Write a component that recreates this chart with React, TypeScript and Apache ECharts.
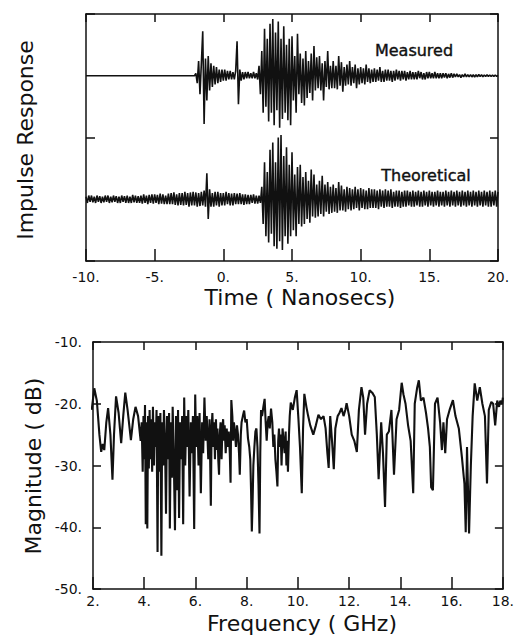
import React, { useEffect, useRef } from "react";
import * as echarts from "echarts";

// ---- Top panel: impulse responses, sampled every 0.1 ns from -10 ns ----
const timeStart = -10;
const timeStep = 0.1;
const timeTicks = [-10, -5, 0, 5, 10, 15, 20];

// deviation about each trace's own baseline
const measured = [
  0, 0, 0, 0, 0, 0, 0, 0, 0, 0, 0, 0, 0, 0, 0, 0, 0, 0, 0, 0,
  0, 0, 0, 0, 0, 0, 0, 0, 0, 0, 0, 0, 0, 0, 0, 0, 0, 0, 0, 0,
  0, 0, 0, 0, 0, 0, 0, 0, 0, 0, 0, 0, 0, 0, 0, 0, 0, 0, 0, 0,
  0, 0, 0, 0, 0, 0, 0, 0, 0, 0, 0, 0, 0, 0, 0, 0, 0, 0, 0, 0,
  0.02, -0.06, 0.12, -0.15, 0.1, 0.36, -0.39, 0.14, -0.2, 0.16,
  -0.12, 0.1, -0.09, 0.08, -0.07, 0.07, -0.06, 0.05, -0.05, 0.05,
  -0.04, 0.05, -0.04, 0.04, -0.03, 0.04, -0.03, 0.03, -0.03, 0.04,
  0.28, -0.23, 0.05, -0.04, 0.03, -0.03, 0.03, -0.02, 0.03, -0.02,
  0.02, -0.02, 0.03, -0.02, 0.02, -0.03, 0.08, -0.15, 0.2, -0.3,
  0.38, -0.25, 0.3, -0.37, 0.42, -0.3, 0.46, -0.4, 0.35, -0.28,
  0.44, -0.42, 0.3, -0.35, 0.4, -0.3, 0.25, -0.36, 0.3, -0.4,
  0.32, -0.2, 0.16, -0.3, 0.34, -0.15, 0.18, -0.22, 0.14, -0.24,
  0.2, -0.18, 0.12, -0.14, 0.18, -0.2, 0.24, -0.12, 0.15, -0.1,
  0.16, -0.12, 0.1, -0.2, 0.12, -0.09, 0.2, -0.11, 0.08, -0.1,
  0.12, -0.1, 0.08, -0.11, 0.16, -0.08, 0.11, -0.13, 0.07, -0.08,
  0.09, -0.07, 0.12, -0.08, 0.07, -0.06, 0.09, -0.1, 0.06, -0.07,
  0.07, -0.06, 0.06, -0.07, 0.09, -0.05, 0.06, -0.06, 0.05, -0.05,
  0.06, -0.05, 0.05, -0.04, 0.07, -0.05, 0.04, -0.05, 0.05, -0.04,
  0.05, -0.04, 0.04, -0.05, 0.04, -0.04, 0.05, -0.03, 0.04, -0.04,
  0.04, -0.03, 0.04, -0.04, 0.03, -0.03, 0.04, -0.03, 0.03, -0.03,
  0.03, -0.03, 0.04, -0.02, 0.03, -0.03, 0.02, -0.03, 0.03, -0.02,
  0.03, -0.02, 0.02, -0.02, 0.03, -0.02, 0.02, -0.02, 0.02, -0.02,
  0.02, -0.015, 0.02, -0.02, 0.015, -0.015, 0.02, -0.015, 0.015, -0.01,
  0.015, -0.01, 0.01, -0.015, 0.01, -0.01, 0.015, -0.01, 0.01, -0.01,
  0.01, -0.01, 0.008, -0.01, 0.008, -0.008, 0.01, -0.006, 0.008, -0.008,
  0.006, -0.006, 0.008, -0.005, 0.006, -0.006, 0.005, -0.005, 0.006, -0.005,
  0.004,
];

const theoretical = [
  0.02, -0.03, 0.03, -0.02, 0.03, -0.025, 0.02, -0.03, 0.03, -0.02,
  0.025, -0.03, 0.02, -0.025, 0.03, -0.02, 0.03, -0.03, 0.02, -0.025,
  0.03, -0.02, 0.025, -0.03, 0.02, -0.03, 0.03, -0.02, 0.025, -0.03,
  0.03, -0.03, 0.02, -0.03, 0.035, -0.025, 0.03, -0.03, 0.025, -0.03,
  0.03, -0.035, 0.04, -0.03, 0.03, -0.04, 0.035, -0.03, 0.04, -0.035,
  0.04, -0.03, 0.035, -0.04, 0.045, -0.035, 0.04, -0.04, 0.03, -0.04,
  0.045, -0.04, 0.05, -0.04, 0.055, -0.045, 0.04, -0.05, 0.05, -0.045,
  0.05, -0.05, 0.06, -0.045, 0.05, -0.06, 0.055, -0.05, 0.06, -0.05,
  0.055, -0.06, 0.05, -0.055, 0.06, -0.05, 0.07, -0.06, 0.21, -0.16,
  0.08, -0.06, 0.05, -0.06, 0.06, -0.05, 0.06, -0.06, 0.05, -0.05,
  0.05, -0.05, 0.06, -0.04, 0.05, -0.05, 0.045, -0.05, 0.05, -0.04,
  0.045, -0.04, 0.05, -0.04, 0.04, -0.045, 0.04, -0.04, 0.035, -0.04,
  0.035, -0.03, 0.04, -0.035, 0.03, -0.035, 0.03, -0.03, 0.1, -0.2,
  0.3, -0.3, 0.22, -0.35, 0.4, -0.28, 0.46, -0.38, 0.3, -0.4,
  0.5, -0.34, 0.52, -0.41, 0.35, -0.3, 0.42, -0.36, 0.28, -0.3,
  0.38, -0.25, 0.2, -0.3, 0.26, -0.2, 0.28, -0.22, 0.18, -0.2,
  0.22, -0.16, 0.15, -0.19, 0.24, -0.14, 0.2, -0.15, 0.12, -0.14,
  0.15, -0.12, 0.19, -0.14, 0.12, -0.1, 0.14, -0.12, 0.1, -0.11,
  0.12, -0.1, 0.09, -0.11, 0.14, -0.09, 0.11, -0.09, 0.08, -0.1,
  0.1, -0.08, 0.09, -0.09, 0.08, -0.08, 0.1, -0.07, 0.08, -0.09,
  0.09, -0.07, 0.08, -0.08, 0.07, -0.08, 0.09, -0.07, 0.08, -0.07,
  0.08, -0.07, 0.07, -0.08, 0.08, -0.06, 0.07, -0.07, 0.08, -0.06,
  0.07, -0.06, 0.08, -0.07, 0.06, -0.06, 0.07, -0.06, 0.07, -0.07,
  0.06, -0.06, 0.07, -0.06, 0.07, -0.05, 0.06, -0.06, 0.07, -0.06,
  0.06, -0.05, 0.07, -0.06, 0.06, -0.06, 0.07, -0.05, 0.06, -0.06,
  0.07, -0.05, 0.06, -0.06, 0.06, -0.05, 0.07, -0.06, 0.06, -0.05,
  0.06, -0.06, 0.07, -0.05, 0.06, -0.06, 0.07, -0.05, 0.06, -0.06,
  0.07, -0.05, 0.06, -0.06, 0.07, -0.05, 0.06, -0.06, 0.07, -0.05,
  0.06, -0.06, 0.07, -0.05, 0.06, -0.06, 0.07, -0.05, 0.06, -0.06,
  0.07, -0.05, 0.06, -0.06, 0.07, -0.06, 0.06, -0.05, 0.07, -0.06,
  0.06,
];

const measuredBaseline = 1.5;
const theoreticalBaseline = 0.5;

// ---- Bottom panel: magnitude spectrum [GHz, dB] ----
const freqTicks = [2, 4, 6, 8, 10, 12, 14, 16, 18];
const magTicks = [-50, -40, -30, -20, -10];
const spectrum: [number, number][] = [
  [1.95, -21], [2.05, -17.5], [2.15, -19.5], [2.25, -25], [2.32, -27.8], [2.38, -26.5], [2.44, -27.5],
  [2.52, -23], [2.59, -20.7], [2.68, -25], [2.76, -32.3], [2.82, -25], [2.9, -18.8], [3.0, -21.5],
  [3.1, -26.4], [3.18, -22], [3.26, -18.2], [3.35, -21], [3.48, -25.9], [3.57, -22.5], [3.66, -20.5],
  [3.76, -22], [3.86, -26],
  [3.9, -23], [3.94, -31], [3.97, -22], [4.0, -29], [4.03, -20.2], [4.06, -39.5], [4.09, -23],
  [4.12, -40.2], [4.15, -22], [4.18, -30.5], [4.21, -21], [4.24, -29], [4.27, -22.5], [4.31, -31],
  [4.34, -20.5], [4.38, -30], [4.41, -23], [4.45, -27], [4.48, -21], [4.52, -44], [4.55, -22],
  [4.6, -31], [4.63, -21.5], [4.67, -44.6], [4.7, -23], [4.74, -30], [4.77, -21], [4.81, -26],
  [4.85, -37.8], [4.89, -22], [4.93, -29], [4.97, -21.5], [5.0, -40.2], [5.04, -23], [5.08, -32],
  [5.11, -20.5], [5.15, -28], [5.2, -40.5], [5.24, -22], [5.28, -34], [5.32, -21], [5.36, -38.5],
  [5.4, -23], [5.44, -29], [5.48, -22], [5.52, -39.5], [5.56, -19], [5.6, -30], [5.64, -22],
  [5.68, -27], [5.72, -21], [5.77, -35], [5.82, -23], [5.86, -28], [5.9, -22], [5.95, -40.3],
  [5.99, -18.5], [6.03, -27], [6.07, -22], [6.12, -30], [6.16, -21.5], [6.21, -34.5], [6.26, -23],
  [6.3, -28], [6.35, -19], [6.4, -26], [6.44, -22], [6.5, -29], [6.55, -22.5], [6.6, -36.5],
  [6.63, -24], [6.66, -21.5], [6.7, -27], [6.73, -23], [6.76, -29], [6.8, -22.5], [6.83, -27.5],
  [6.86, -24], [6.89, -29], [6.92, -31.5], [6.95, -25], [6.98, -23], [7.02, -29], [7.05, -24],
  [7.08, -22.5], [7.11, -26], [7.14, -23.5], [7.18, -28], [7.22, -24], [7.26, -27], [7.3, -24.5],
  [7.34, -28], [7.37, -32.8], [7.4, -19.4], [7.44, -22], [7.47, -26], [7.5, -23], [7.54, -24.5],
  [7.58, -27], [7.62, -23.5], [7.66, -25], [7.7, -28], [7.73, -31.5], [7.77, -25], [7.8, -23],
  [7.85, -22], [7.9, -21.1], [7.95, -23], [8.0, -22.5], [8.05, -25.6], [8.1, -27], [8.14, -29],
  [8.17, -34], [8.2, -40.7], [8.23, -36], [8.26, -30], [8.3, -27], [8.34, -24.5], [8.38, -24],
  [8.42, -27], [8.46, -33], [8.5, -41], [8.53, -28], [8.56, -21], [8.6, -22], [8.65, -20.5],
  [8.7, -19.2], [8.74, -23], [8.78, -26], [8.82, -23], [8.86, -22], [8.9, -24], [8.95, -20.8],
  [9.0, -23], [9.04, -27], [9.08, -25], [9.12, -29], [9.16, -31], [9.2, -33.4], [9.23, -26],
  [9.26, -24], [9.3, -27], [9.33, -25], [9.36, -30], [9.4, -24], [9.44, -26], [9.48, -28],
  [9.52, -24.5], [9.55, -30], [9.58, -26], [9.61, -31], [9.65, -25], [9.68, -22], [9.72, -19.8],
  [9.8, -21], [9.88, -19], [9.95, -17.8], [10.02, -22.5], [10.08, -27], [10.15, -34.5], [10.2, -24],
  [10.25, -18.4], [10.33, -20.5], [10.4, -22], [10.48, -23.5], [10.6, -25], [10.7, -23.5], [10.8, -21.8],
  [10.9, -22.5], [11.0, -22], [11.08, -24], [11.15, -28], [11.2, -30.4], [11.26, -22], [11.33, -26],
  [11.4, -30.6], [11.46, -24], [11.55, -22], [11.62, -21.5], [11.7, -20.7], [11.78, -22], [11.85, -21],
  [11.9, -19.9], [12.0, -22], [12.1, -25], [12.2, -26], [12.3, -27.8], [12.38, -21], [12.48, -17.3],
  [12.55, -19], [12.62, -25], [12.7, -20], [12.8, -17.8], [12.9, -18.2], [13.0, -18.9], [13.08, -25],
  [13.15, -32.2], [13.25, -23], [13.32, -28], [13.4, -36.7], [13.47, -25], [13.55, -24.5], [13.65, -21],
  [13.75, -31.5], [13.85, -22.5], [13.95, -21], [14.05, -16.6], [14.12, -18.5], [14.2, -20], [14.3, -23.5],
  [14.4, -26], [14.5, -34.5], [14.56, -20], [14.65, -17.5], [14.72, -16.2], [14.8, -19.5], [14.9, -19],
  [15.0, -21.5], [15.08, -24], [15.15, -27], [15.2, -33.5], [15.27, -34], [15.35, -20], [15.45, -19],
  [15.55, -23], [15.62, -27.5], [15.68, -23], [15.75, -28], [15.82, -22.5], [15.92, -21], [16.05, -19.4],
  [16.15, -22], [16.28, -24], [16.4, -28.6], [16.5, -33], [16.55, -40.8], [16.6, -27], [16.68, -41],
  [16.75, -30], [16.82, -22], [16.9, -16.7], [17.0, -19.5], [17.1, -17.3], [17.2, -20], [17.3, -22],
  [17.38, -32.9], [17.45, -21], [17.55, -19.7], [17.62, -20], [17.7, -23.5], [17.78, -19.5], [17.85, -20.5],
  [17.9, -19.5], [17.97, -20], [18.0, -19],
];

const FONT = "DejaVu Sans";
const INK = "#111";

export default function App() {
  const ref = useRef<HTMLDivElement>(null);

  useEffect(() => {
    if (!ref.current) return;
    const chart = echarts.init(ref.current, undefined, { renderer: "svg" });

    const measuredData = measured.map((v, i) => [timeStart + i * timeStep, measuredBaseline + v]);
    const theoreticalData = theoretical.map((v, i) => [timeStart + i * timeStep, theoreticalBaseline + v]);

    const axisLine = { show: true, onZero: false, lineStyle: { color: INK, width: 1.5 } };
    const label = () => ({
      show: true,
      color: INK,
      fontFamily: FONT,
      fontSize: 14,
      showMinLabel: true,
      showMaxLabel: true,
      formatter: (v: number) => `${v}.`,
    });
    const ticks = (len: number) => ({ show: true, inside: true, length: len, lineStyle: { color: INK, width: 1.5 } });
    const hidden = { show: false };

    const option: any = {
      animation: false,
      backgroundColor: "#fff",
      grid: [
        { left: 86, top: 14, width: 412, height: 247, containLabel: false },
        { left: 93, top: 342, width: 410, height: 247, containLabel: false },
      ],
      xAxis: [
        {
          gridIndex: 0, type: "value", position: "bottom",
          min: timeTicks[0], max: timeTicks[timeTicks.length - 1], interval: 5,
          axisLine, axisTick: ticks(12), axisLabel: { ...label(), margin: 9 }, splitLine: hidden,
        },
        {
          gridIndex: 0, type: "value", position: "top",
          min: timeTicks[0], max: timeTicks[timeTicks.length - 1], interval: 5,
          axisLine, axisTick: ticks(8), axisLabel: hidden, splitLine: hidden,
        },
        {
          gridIndex: 1, type: "value", position: "bottom",
          min: freqTicks[0], max: freqTicks[freqTicks.length - 1], interval: 2,
          axisLine, axisTick: ticks(12), axisLabel: { ...label(), margin: 5 }, splitLine: hidden,
        },
        {
          gridIndex: 1, type: "value", position: "top",
          min: freqTicks[0], max: freqTicks[freqTicks.length - 1], interval: 2,
          axisLine, axisTick: ticks(8), axisLabel: hidden, splitLine: hidden,
        },
      ],
      yAxis: [
        {
          gridIndex: 0, type: "value", position: "left", min: 0, max: 2, interval: 1,
          axisLine, axisTick: ticks(9), axisLabel: hidden, splitLine: hidden,
        },
        {
          gridIndex: 0, type: "value", position: "right", min: 0, max: 2, interval: 1,
          axisLine, axisTick: ticks(8), axisLabel: hidden, splitLine: hidden,
        },
        {
          gridIndex: 1, type: "value", position: "left",
          min: magTicks[0], max: magTicks[magTicks.length - 1], interval: 10,
          axisLine, axisTick: ticks(8), axisLabel: { ...label(), margin: 11 }, splitLine: hidden,
        },
        {
          gridIndex: 1, type: "value", position: "right",
          min: magTicks[0], max: magTicks[magTicks.length - 1], interval: 10,
          axisLine, axisTick: ticks(8), axisLabel: hidden, splitLine: hidden,
        },
      ],
      series: [
        {
          name: "Measured", type: "line", xAxisIndex: 0, yAxisIndex: 0, data: measuredData,
          showSymbol: false, symbol: "none", silent: true,
          lineStyle: { color: INK, width: 1.6 },
        },
        {
          name: "Theoretical", type: "line", xAxisIndex: 0, yAxisIndex: 0, data: theoreticalData,
          showSymbol: false, symbol: "none", silent: true,
          lineStyle: { color: INK, width: 1.6 },
        },
        {
          name: "Magnitude", type: "line", xAxisIndex: 2, yAxisIndex: 2, data: spectrum,
          showSymbol: false, symbol: "none", silent: true, clip: true,
          lineStyle: { color: INK, width: 2.1 },
        },
      ],
      graphic: [
        {
          type: "text", x: 25, y: 140, rotation: Math.PI / 2,
          style: { text: "Impulse Response", fill: INK, font: `22px "${FONT}"`, textAlign: "center", textVerticalAlign: "middle" },
        },
        {
          type: "text", x: 300, y: 297,
          style: { text: "Time ( Nanosecs)", fill: INK, font: `22px "${FONT}"`, textAlign: "center", textVerticalAlign: "middle" },
        },
        {
          type: "text", x: 33, y: 466, rotation: Math.PI / 2,
          style: { text: "Magnitude ( dB)", fill: INK, font: `22px "${FONT}"`, textAlign: "center", textVerticalAlign: "middle" },
        },
        {
          type: "text", x: 302, y: 623,
          style: { text: "Frequency ( GHz)", fill: INK, font: `22px "${FONT}"`, textAlign: "center", textVerticalAlign: "middle" },
        },
        {
          type: "text", x: 414, y: 50,
          style: { text: "Measured", fill: INK, stroke: INK, lineWidth: 0.4, font: `16px "${FONT}"`, textAlign: "center", textVerticalAlign: "middle" },
        },
        {
          type: "text", x: 426, y: 175,
          style: { text: "Theoretical", fill: INK, stroke: INK, lineWidth: 0.4, font: `16px "${FONT}"`, textAlign: "center", textVerticalAlign: "middle" },
        },
      ],
    };

    chart.setOption(option);
    return () => chart.dispose();
  }, []);

  return (
    <div
      ref={ref}
      style={{ position: "absolute", left: 0, top: 0, width: 517, height: 644, background: "#fff" }}
    />
  );
}
